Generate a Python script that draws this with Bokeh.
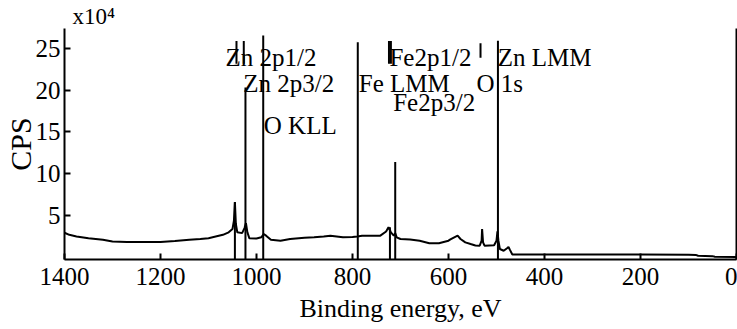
from bokeh.plotting import figure
from bokeh.models import Range1d, FixedTicker, LinearAxis
from bokeh.core.properties import value
from bokeh.embed import file_html
from bokeh.resources import INLINE

# ---- data (CPS in units of 10^4) ----
energy = [1400, 1390, 1375, 1350, 1320, 1300, 1270, 1240, 1200, 1170, 1140, 1117, 1100,
          1085, 1070, 1058, 1050, 1047, 1045, 1043, 1040, 1030, 1025, 1022, 1019, 1015,
          1000, 990, 985, 980, 970, 950, 930, 900, 880, 860, 846, 820, 800, 790, 780,
          760, 742, 730, 725, 720, 714, 711, 708, 700, 680, 660, 640, 620, 600, 596,
          588, 581, 575, 565, 554, 544, 535, 531, 530, 528, 525, 505, 500, 498, 496,
          493, 485, 478, 475, 472, 467, 400, 300, 200, 100, 85, 80, 50, 45, 0]
cps = [2.95, 2.7, 2.5, 2.3, 2.1, 1.9, 1.85, 1.85, 1.85, 1.95, 2.1, 2.2, 2.3,
       2.5, 2.7, 3.0, 3.4, 4.4, 6.6, 4.0, 3.0, 2.9, 3.5, 4.1, 3.0, 2.3,
       2.25, 2.4, 2.8, 2.6, 2.1, 2.0, 2.2, 2.35, 2.4, 2.5, 2.6, 2.4, 2.45, 2.5, 2.6,
       2.6, 2.6, 3.1, 3.6, 3.0, 2.6, 2.9, 2.4, 2.2, 2.15, 2.0, 1.7, 1.7, 2.0, 2.15,
       2.4, 2.6, 2.2, 1.8, 1.6, 1.43, 1.4, 2.0, 3.4, 1.8, 1.4, 1.45, 2.0, 3.1, 2.0,
       1.0, 0.8, 1.1, 1.25, 0.9, 0.35, 0.35, 0.35, 0.35, 0.32, 0.3, 0.2, 0.15, 0.08, 0.05]

# reference line markers (position in eV, height in 10^4 CPS)
stick_energy = [1045, 1023, 986, 789, 722, 711, 497]
stick_height = [6.6, 20.3, 26.5, 25.7, 3.6, 11.4, 25.9]

# short label marks
mark_energy = [1041.7, 1026.5, 724, 720, 533.3]
mark_low = [23.14, 23.14, 23.14, 23.14, 23.85]
mark_high = [25.85, 25.85, 25.85, 25.85, 25.6]

# peak labels
label_text = ["Zn 2p1/2", "Zn 2p3/2", "O KLL", "Fe2p1/2", "Fe LMM", "Fe2p3/2", "Zn LMM", "O 1s"]
label_energy = [1064.6, 1027.7, 984.8, 723, 787, 715.2, 497.3, 541.7]
label_cps = [23.93, 20.75, 15.77, 23.93, 20.75, 18.55, 23.93, 20.75]

x_ticks = [1400, 1200, 1000, 800, 600, 400, 200, 0]
y_ticks = [5, 10, 15, 20, 25]

FONT = "Liberation Serif"
Y0 = -0.25

p = figure(width=737, height=329, output_backend="svg", toolbar_location=None,
           x_range=Range1d(1400, 0), y_range=Range1d(Y0, 27.35),
           min_border_left=64, min_border_right=1, min_border_top=28, min_border_bottom=70)
p.outline_line_color = None
p.grid.visible = False
p.background_fill_color = "white"

p.title.text = "x10\u2074"
p.title.align = "left"
p.title.offset = 8
p.title.standoff = 0
p.title.text_font = FONT
p.title.text_font_size = "23px"
p.title.text_font_style = "normal"
p.title.text_color = "black"

for ax in (p.xaxis[0], p.yaxis[0]):
    ax.axis_line_width = 2
    ax.axis_line_color = "black"
    ax.major_tick_line_width = 2
    ax.major_tick_line_color = "black"
    ax.major_tick_in = 6
    ax.major_tick_out = 0
    ax.minor_tick_line_color = None
    ax.major_label_text_font = FONT
    ax.major_label_text_font_size = "25px"
    ax.major_label_text_color = "black"
    ax.axis_label_text_font = FONT
    ax.axis_label_text_font_style = "normal"
    ax.axis_label_text_color = "black"

p.xaxis.ticker = FixedTicker(ticks=x_ticks)
p.yaxis.ticker = FixedTicker(ticks=y_ticks)
p.xaxis.major_label_standoff = 8
p.yaxis.major_label_standoff = 4
p.xaxis.axis_label = "Binding energy, eV"
p.xaxis.axis_label_text_font_size = "26px"
p.xaxis.axis_label_standoff = 6
p.yaxis.axis_label = "CPS"
p.yaxis.axis_label_text_font_size = "30px"
p.yaxis.axis_label_standoff = -4

right = LinearAxis(ticker=FixedTicker(ticks=[]), axis_line_width=2, axis_line_color="black",
                   major_label_text_font_size="0px", major_tick_line_color=None,
                   minor_tick_line_color=None)
p.add_layout(right, "right")

p.line(energy, cps, line_color="black", line_width=2)
p.segment(x0=stick_energy, y0=[Y0] * len(stick_energy), x1=stick_energy, y1=stick_height,
          line_color="black", line_width=2)
p.segment(x0=mark_energy, y0=mark_low, x1=mark_energy, y1=mark_high,
          line_color="black", line_width=2)

p.text(x=label_energy, y=label_cps, text=label_text, text_font=value(FONT),
       text_font_size="25px", text_baseline="alphabetic", text_align="left",
       text_color="black")

open("out.html", "w").write(file_html(p, INLINE))
